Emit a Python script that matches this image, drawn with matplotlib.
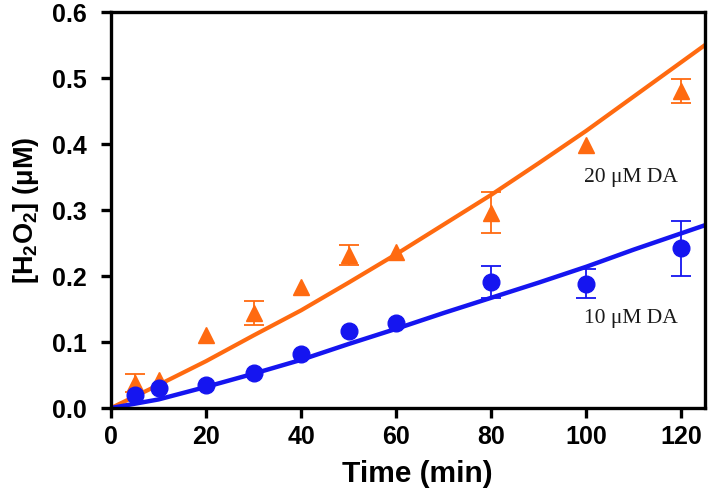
import matplotlib
matplotlib.use("Agg")
import matplotlib.pyplot as plt

# Data
time_pts = [5, 10, 20, 30, 40, 50, 60, 80, 100, 120]
h2o2_20 = [0.038, 0.042, 0.110, 0.144, 0.183, 0.232, 0.236, 0.296, 0.398, 0.480]
err_20 = [0.014, 0.0, 0.0, 0.018, 0.0, 0.015, 0.0, 0.031, 0.0, 0.018]
h2o2_10 = [0.020, 0.030, 0.035, 0.053, 0.082, 0.117, 0.129, 0.191, 0.188, 0.242]
err_10 = [0.0, 0.0, 0.0, 0.0, 0.0, 0.0, 0.0, 0.024, 0.022, 0.042]

# Fitted curves
fit_t = [0, 10, 20, 30, 40, 50, 60, 70, 80, 90, 100, 110, 125]
fit_20 = [0.0, 0.035, 0.071, 0.110, 0.148, 0.190, 0.233, 0.278, 0.323, 0.371, 0.420, 0.472, 0.550]
fit_10 = [0.0, 0.013, 0.032, 0.052, 0.073, 0.097, 0.120, 0.144, 0.167, 0.190, 0.214, 0.240, 0.277]

orange = "#FF6A10"
blue = "#1515F0"

plt.rcParams['mathtext.fontset'] = 'custom'
plt.rcParams['mathtext.rm'] = 'Liberation Sans:bold'
plt.rcParams['mathtext.bf'] = 'Liberation Sans:bold'

fig = plt.figure(figsize=(7.09, 4.92), dpi=100)
ax = fig.add_axes([0.1566, 0.1707, 0.9944 - 0.1566, 0.9756 - 0.1707])

ax.plot(fit_t, fit_20, color=orange, lw=3, zorder=2)
ax.plot(fit_t, fit_10, color=blue, lw=3.2, zorder=2)


def with_err(xs, ys, es):
    sel = [(x, y, e) for x, y, e in zip(xs, ys, es) if e > 0]
    return [s[0] for s in sel], [s[1] for s in sel], [s[2] for s in sel]


ex, ey, ee = with_err(time_pts, h2o2_20, err_20)
ax.errorbar(ex, ey, yerr=ee, fmt='none', ecolor=orange, elinewidth=1.3,
            capsize=7, capthick=1.3, zorder=3)
ax.plot(time_pts, h2o2_20, '^', color=orange, ms=11, zorder=3)

ex, ey, ee = with_err(time_pts, h2o2_10, err_10)
ax.errorbar(ex, ey, yerr=ee, fmt='none', ecolor=blue, elinewidth=1.3,
            capsize=7, capthick=1.3, zorder=4)
ax.plot(time_pts, h2o2_10, 'o', color=blue, ms=12, zorder=4)

ax.text(109.5, 0.35, "20 μM DA", family="Liberation Serif", fontsize=15.5,
        ha="center", va="center", color="#1a1a1a")
ax.text(109.5, 0.136, "10 μM DA", family="Liberation Serif", fontsize=15.5,
        ha="center", va="center", color="#1a1a1a")

ax.set_xlim(0, 125)
ax.set_ylim(0, 0.6)
ax.set_xticks([0, 20, 40, 60, 80, 100, 120])
ax.set_yticks([0.0, 0.1, 0.2, 0.3, 0.4, 0.5, 0.6])
ax.set_yticklabels(["0.0", "0.1", "0.2", "0.3", "0.4", "0.5", "0.6"])

for s in ax.spines.values():
    s.set_linewidth(2.4)
ax.tick_params(direction='out', length=7.5, width=2.4, labelsize=18)
ax.tick_params(axis='x', pad=5)
ax.tick_params(axis='y', pad=10)
for lab in ax.get_xticklabels() + ax.get_yticklabels():
    lab.set_fontfamily("Liberation Sans")
    lab.set_fontweight("bold")

ax.set_xlabel("Time (min)", family="Liberation Sans", fontweight="bold",
              fontsize=21.5, labelpad=8)
ax.xaxis.label.set_x(0.516)
ax.set_ylabel(r"[H$_{2}$O$_{2}$] (μM)", family="Liberation Sans",
              fontweight="bold", fontsize=19.5, labelpad=8)

fig.savefig("out.png", dpi=100)
